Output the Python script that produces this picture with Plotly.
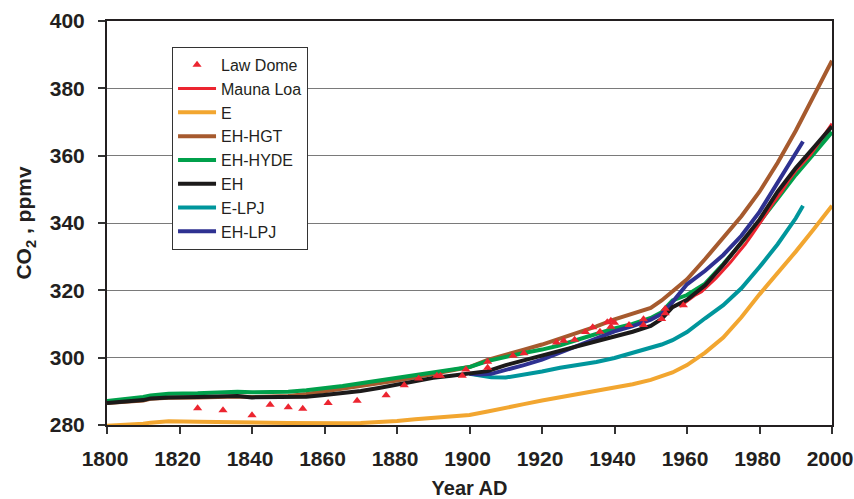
import plotly.graph_objects as go

# ---------------- data ----------------
ld_years = [1825, 1832, 1840, 1845, 1850, 1854, 1861, 1869, 1877, 1882, 1886, 1891, 1892,
            1898, 1899, 1905, 1905, 1912, 1915, 1924, 1926, 1929, 1932, 1934, 1936, 1938,
            1939, 1939, 1940, 1944, 1948, 1948, 1953, 1954, 1954, 1959]
ld_co2 = [285.0, 284.4, 282.9, 286.0, 285.3, 284.8, 286.5, 287.2, 288.8, 291.8, 293.8, 294.6, 294.6,
          294.6, 296.5, 298.8, 297.0, 300.6, 301.3, 304.5, 305.0, 305.3, 307.6, 309.0, 307.7, 310.5,
          311.0, 309.2, 310.4, 309.7, 311.4, 309.7, 311.5, 313.2, 314.5, 315.6]

ml_years = [1958, 1960, 1962, 1964, 1966, 1968, 1970, 1972, 1974, 1976, 1978, 1980,
            1982, 1984, 1986, 1988, 1990, 1992, 1994, 1996, 1998, 2000]
ml_co2 = [315.2, 316.8, 318.4, 319.6, 321.6, 323.6, 326.0, 328.3, 331.0, 333.6, 336.6, 340.0,
          343.0, 346.3, 349.2, 352.6, 355.5, 357.8, 360.2, 363.2, 366.4, 369.5]

hist_years = [1800, 1805, 1810, 1812, 1817, 1825, 1833, 1836, 1840, 1845, 1850, 1855, 1860,
              1865, 1870, 1875, 1880, 1885, 1890, 1895, 1900, 1905, 1910, 1915, 1920, 1925,
              1930, 1935, 1940, 1945, 1950, 1953, 1956, 1960, 1965, 1970, 1975, 1980, 1985,
              1990, 1995, 2000]

e_co2 = [279.8, 280.0, 280.4, 280.7, 281.1, 281.0, 280.9, 281.1, 280.8, 280.7, 280.6, 280.5, 280.5,
         280.5, 280.6, 280.8, 281.2, 281.7, 282.1, 282.5, 283.0, 284.0, 285.0, 286.2, 287.3, 288.2,
         289.2, 290.0, 291.0, 292.1, 293.4, 294.4, 295.6, 297.8, 301.5, 306.0, 312.0, 318.8, 325.0,
         331.5, 338.2, 345.1]

hgt_co2 = [286.5, 286.9, 287.3, 287.8, 288.1, 288.2, 288.4, 288.5, 288.3, 288.4, 288.6, 289.2, 290.0,
           290.7, 291.4, 292.2, 293.2, 294.2, 295.2, 296.0, 297.2, 299.3, 301.0, 302.4, 303.9, 305.6,
           307.5, 309.3, 311.4, 313.0, 314.8, 317.0, 319.8, 323.3, 329.3, 335.6, 342.0, 349.3, 357.9,
           367.4, 377.5, 388.2]

hyde_co2 = [287.1, 287.6, 288.3, 288.8, 289.3, 289.4, 289.7, 289.9, 289.7, 289.8, 289.9, 290.3, 290.9,
            291.6, 292.4, 293.2, 294.0, 294.9, 295.7, 296.3, 297.2, 299.0, 300.3, 301.4, 302.4, 303.7,
            305.4, 307.2, 308.7, 310.0, 311.8, 313.5, 317.0, 318.6, 322.0, 327.8, 334.2, 340.3, 347.3,
            354.3, 360.6, 367.0]

eh_co2 = [286.5, 286.9, 287.4, 287.9, 288.2, 288.3, 288.4, 288.6, 288.2, 288.3, 288.1, 288.4, 288.9,
          289.4, 290.1, 291.0, 292.0, 293.1, 294.0, 294.6, 295.2, 296.0, 297.8, 299.2, 300.4, 301.8,
          303.3, 304.8, 306.3, 307.7, 309.4, 311.5, 315.0, 317.2, 321.5, 327.5, 334.3, 341.0, 349.3,
          356.3, 362.5, 368.7]

lpj_years = [1900, 1903, 1906, 1910, 1915, 1920, 1925, 1930, 1935, 1940, 1945, 1950, 1953, 1956,
             1960, 1965, 1970, 1975, 1980, 1985, 1990, 1992]
elpj_co2 = [295.2, 294.6, 294.2, 294.1, 294.9, 295.9, 297.0, 297.8, 298.7, 299.9, 301.5, 302.8, 303.9,
            305.2, 307.6, 311.7, 315.6, 320.6, 326.9, 333.7, 341.4, 345.1]
ehlpj_co2 = [295.2, 295.0, 295.2, 296.3, 297.8, 299.4, 301.5, 303.6, 305.9, 307.8, 309.4, 311.3, 313.0,
             316.5, 321.8, 325.8, 330.5, 336.2, 343.3, 352.0, 360.4, 364.2]

x_ticks = [1800, 1820, 1840, 1860, 1880, 1900, 1920, 1940, 1960, 1980, 2000]
y_ticks = [280, 300, 320, 340, 360, 380, 400]

# ---------------- figure ----------------
fig = go.Figure()

LW = 4
fig.add_trace(go.Scatter(x=hist_years, y=e_co2, mode="lines", name="E", legendrank=3,
                         line=dict(color="#f2a630", width=LW)))
fig.add_trace(go.Scatter(x=lpj_years, y=elpj_co2, mode="lines", name="E-LPJ", legendrank=7,
                         line=dict(color="#00969c", width=LW)))
fig.add_trace(go.Scatter(x=hist_years, y=hgt_co2, mode="lines", name="EH-HGT", legendrank=4,
                         line=dict(color="#a65a2e", width=LW)))
fig.add_trace(go.Scatter(x=hist_years, y=hyde_co2, mode="lines", name="EH-HYDE", legendrank=5,
                         line=dict(color="#00a04b", width=LW)))
fig.add_trace(go.Scatter(x=lpj_years, y=ehlpj_co2, mode="lines", name="EH-LPJ", legendrank=8,
                         line=dict(color="#2e3191", width=LW)))
fig.add_trace(go.Scatter(x=ml_years, y=ml_co2, mode="lines", name="Mauna Loa", legendrank=2,
                         line=dict(color="#ec2530", width=3)))
fig.add_trace(go.Scatter(x=hist_years, y=eh_co2, mode="lines", name="EH", legendrank=6,
                         line=dict(color="#1c1a1a", width=LW)))
fig.add_trace(go.Scatter(x=ld_years, y=ld_co2, mode="markers", name="Law Dome", legendrank=1,
                         marker=dict(symbol="triangle-up", size=8, color="#ec2530")))

FAM = "Liberation Sans, Arial, sans-serif"
tick_font = dict(family=FAM, size=21, color="#231f20", weight="bold")

fig.update_layout(
    width=854, height=499,
    margin=dict(l=107, r=22, t=21, b=74),
    paper_bgcolor="white", plot_bgcolor="white",
    showlegend=True,
    legend=dict(x=0.0897, y=0.936, xanchor="left", yanchor="top",
                bgcolor="white", bordercolor="#333333", borderwidth=1,
                font=dict(family=FAM, size=16, color="#231f20"),
                itemwidth=38, traceorder="normal"),
    xaxis=dict(range=[1800, 2000], tickvals=x_ticks, ticktext=[str(v) for v in x_ticks],
               automargin=False,
               showgrid=False, zeroline=False, ticks="outside", ticklen=7, tickwidth=1.5,
               tickcolor="#333333", showline=True, linecolor="#231f20", linewidth=2, mirror=True,
               tickfont=tick_font, ticklabelstandoff=7, ticklabeloverflow="allow",
               ticklabelshift=-2,
               title=dict(text="Year AD", font=dict(family=FAM, size=20, color="#231f20", weight="bold"),
                          standoff=17)),
    yaxis=dict(range=[280, 400], tickvals=y_ticks, ticktext=[str(v) for v in y_ticks],
               automargin=False,
               showgrid=True, gridcolor="#7a7a7a", gridwidth=1.2, zeroline=False,
               ticks="outside", ticklen=7, tickwidth=1.5, tickcolor="#333333",
               showline=True, linecolor="#231f20", linewidth=2, mirror=True,
               tickfont=tick_font, ticklabelstandoff=9, ticklabeloverflow="allow",
               title=dict(text="CO<sub>2</sub> , ppmv", font=tick_font, standoff=12)),
)

fig.write_html("out.html",
               config={"displayModeBar": False},
               post_script="document.body.style.margin='0px';document.body.style.overflow='hidden';")
